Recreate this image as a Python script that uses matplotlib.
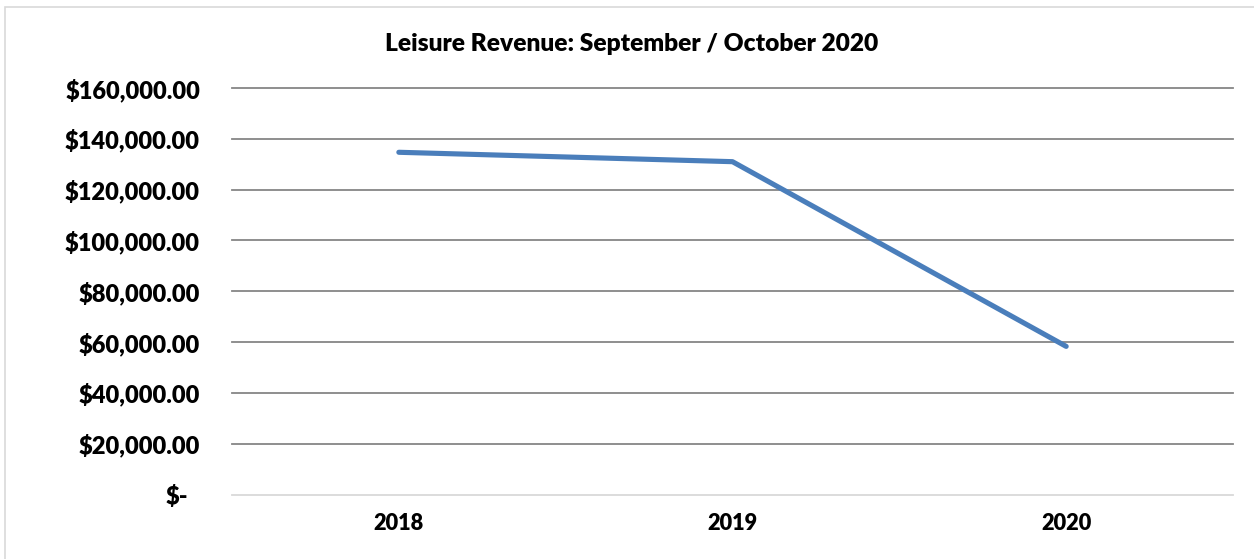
import matplotlib
matplotlib.use("Agg")
import matplotlib.pyplot as plt
from matplotlib.patches import Rectangle
from matplotlib.transforms import ScaledTranslation

# ---- data ----
years = ["2018", "2019", "2020"]
revenue = [134700, 131000, 58300]
y_ticks = [0, 20000, 40000, 60000, 80000, 100000, 120000, 140000, 160000]
y_tick_labels = ["$-", "$20,000.00", "$40,000.00", "$60,000.00", "$80,000.00",
                 "$100,000.00", "$120,000.00", "$140,000.00", "$160,000.00"]
title = "Leisure Revenue: September / October 2020"

W, H = 1254, 559
plt.rcParams['font.family'] = ['Lato', 'DejaVu Sans']
WEIGHT = "heavy"
fig = plt.figure(figsize=(W / 100, H / 100), dpi=100)
fig.patch.set_facecolor("white")

# chart border (light gray, cropped at right/bottom)
fig.patches.append(Rectangle((5 / W, -0.1), 1.2, 1 - 7 / H + 0.1, transform=fig.transFigure,
                             fill=False, edgecolor="#d9d9d9", linewidth=1.2, zorder=0))

left, right = 232 / W, 1233 / W
top, bottom = 1 - 88 / H, 1 - 494.5 / H
ax = fig.add_axes([left, bottom, right - left, top - bottom])
ax.set_facecolor("none")

x = list(range(len(years)))
ax.plot(x, revenue, color="#4a7ebb", linewidth=3.7, solid_capstyle="round",
        solid_joinstyle="round", zorder=3)

ax.set_xlim(-0.5, len(years) - 0.5)
ax.set_ylim(y_ticks[0], y_ticks[-1])

for v in y_ticks:
    ax.axhline(v, color="#d9d9d9" if v == 0 else "#868686", linewidth=1.3, zorder=1,
               clip_on=False)

for s in ax.spines.values():
    s.set_visible(False)

ax.set_yticks(y_ticks)
ax.set_yticklabels(y_tick_labels, fontweight=WEIGHT, color="black")
ax.set_xticks(x)
ax.set_xticklabels(years, fontweight=WEIGHT, color="black")
ax.tick_params(axis="y", length=0, pad=23)
ax.tick_params(axis="x", length=0, pad=13)

ttl = fig.text(632 / W, 1 - 44 / H, title, ha="center", va="center",
               fontweight=WEIGHT, color="black")


def fit(textobj, target_px):
    fig.canvas.draw()
    r = fig.canvas.get_renderer()
    w = textobj.get_window_extent(r).width
    textobj.set_fontsize(textobj.get_fontsize() * target_px / w)


# size text to match reference pixel widths
fig.canvas.draw()
ylabs = ax.get_yticklabels()
fit(ylabs[-1], 134)
ysize = ylabs[-1].get_fontsize()
for lab in ylabs:
    lab.set_fontsize(ysize)
xlabs = ax.get_xticklabels()
fit(xlabs[1], 50)
xsize = xlabs[1].get_fontsize()
for lab in xlabs:
    lab.set_fontsize(xsize)
fit(ttl, 495)

# "$-" sits a bit further left in the reference (accounting format)
ylabs[0].set_transform(ylabs[0].get_transform() +
                       ScaledTranslation(-12 / 100, 0, fig.dpi_scale_trans))

fig.savefig("out.png", dpi=100, facecolor="white")
